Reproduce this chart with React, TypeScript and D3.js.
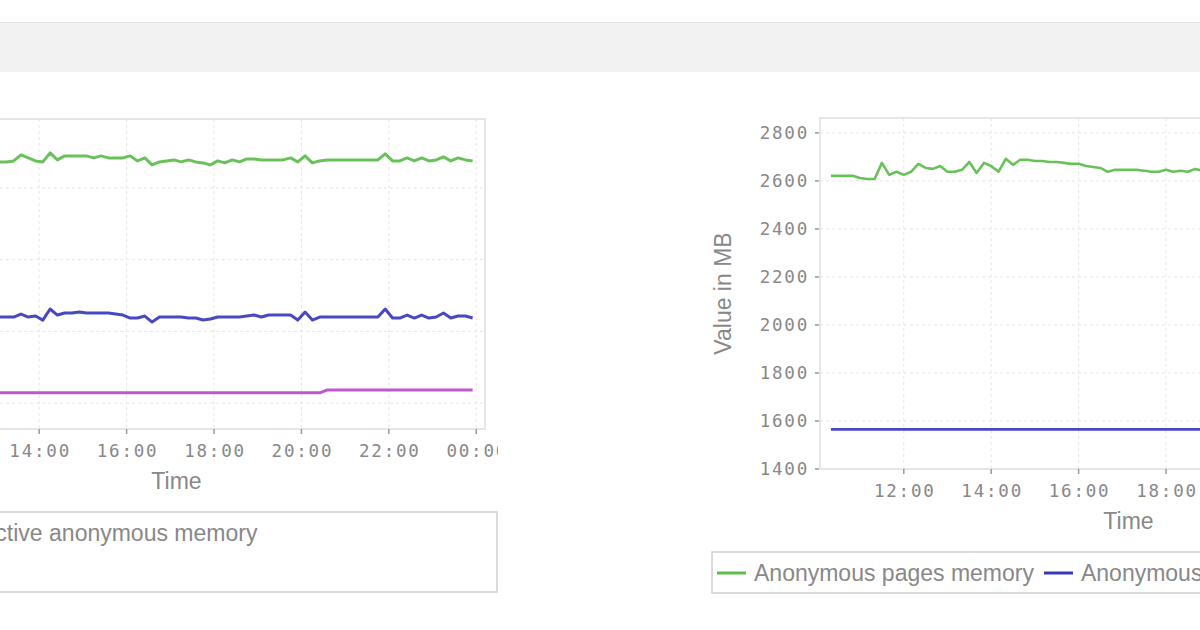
import * as d3 from 'd3';

// sampling of the memory series (minutes between points)
const SAMPLE_MINUTES = 10;
const LEFT_START = '12:55';
const RIGHT_START = '10:20';
const DOMAIN_START = '10:05';
const DOMAIN_END = '00:12'; // next day

// left chart, MB
const LEFT_ANON_PAGES = [
  2181, 2181, 2181, 2188, 2230, 2209, 2188, 2181, 2244, 2195,
  2223, 2223, 2223, 2223, 2209, 2223, 2209, 2209, 2209, 2223,
  2188, 2209, 2160, 2181, 2188, 2195, 2181, 2195, 2181, 2174,
  2160, 2188, 2174, 2195, 2181, 2202, 2202, 2195, 2195, 2195,
  2195, 2209, 2181, 2223, 2174, 2188, 2195, 2195, 2195, 2195,
  2195, 2195, 2195, 2195, 2237, 2188, 2188, 2209, 2188, 2209,
  2188, 2195, 2216, 2188, 2209, 2195, 2188,
];
const LEFT_ACTIVE_ANON = [
  1100, 1100, 1100, 1100, 1121, 1100, 1107, 1079, 1156, 1114,
  1128, 1128, 1135, 1128, 1128, 1128, 1128, 1121, 1114, 1093,
  1093, 1107, 1065, 1100, 1100, 1100, 1100, 1093, 1093, 1079,
  1086, 1100, 1100, 1100, 1100, 1107, 1114, 1100, 1114, 1114,
  1114, 1114, 1079, 1135, 1079, 1100, 1100, 1100, 1100, 1100,
  1100, 1100, 1100, 1100, 1156, 1093, 1093, 1114, 1093, 1114,
  1093, 1100, 1128, 1093, 1107, 1107, 1093,
];
const LEFT_INACTIVE_ANON = [
  572, 572, 572, 572, 572, 572, 572, 572, 572, 572,
  572, 572, 572, 572, 572, 572, 572, 572, 572, 572,
  572, 572, 572, 572, 572, 572, 572, 572, 572, 572,
  572, 572, 572, 572, 572, 572, 572, 572, 572, 572,
  572, 572, 572, 572, 572, 572, 591, 591, 591, 591,
  591, 591, 591, 591, 591, 591, 591, 591, 591, 591,
  591, 591, 591, 591, 591, 591, 591,
];
const LEFT_Y_DOMAIN = [320, 2480];
const LEFT_Y_TICKS = [500, 1000, 1500, 2000];

// right chart, MB
const RIGHT_ANON_PAGES = [
  2621, 2621, 2621, 2621, 2612, 2608, 2608, 2675, 2625, 2638,
  2625, 2638, 2671, 2654, 2650, 2662, 2638, 2638, 2646, 2679,
  2633, 2675, 2662, 2638, 2692, 2667, 2688, 2688, 2683, 2683,
  2679, 2679, 2675, 2671, 2671, 2662, 2658, 2654, 2638, 2646,
  2646, 2646, 2646, 2642, 2638, 2638, 2646, 2638, 2642, 2638,
  2650, 2642, 2642, 2642, 2642, 2642,
];
const RIGHT_ANON_HUGE = [
  1565, 1565, 1565, 1565, 1565, 1565, 1565, 1565, 1565, 1565,
  1565, 1565, 1565, 1565, 1565, 1565, 1565, 1565, 1565, 1565,
  1565, 1565, 1565, 1565, 1565, 1565, 1565, 1565, 1565, 1565,
  1565, 1565, 1565, 1565, 1565, 1565, 1565, 1565, 1565, 1565,
  1565, 1565, 1565, 1565, 1565, 1565, 1565, 1565, 1565, 1565,
  1565, 1565, 1565, 1565, 1565, 1565,
];
const RIGHT_Y_DOMAIN = [1400, 2862];
const RIGHT_Y_TICKS = [1400, 1600, 1800, 2000, 2200, 2400, 2600, 2800];

const GREEN = '#5cbd4b';
const BLUE = '#3838bb';
const MAGENTA = '#b94bc9';
const TEXT = '#888888';
const TICK_FONT = '"DejaVu Sans Mono", monospace';
const LABEL_FONT = '"Liberation Sans", Arial, sans-serif';
const VIEW_LEFT = 0; // the page is scrolled: anything left of this is out of view

function at(hm: string, nextDay = false) {
  const [h, m] = hm.split(':').map(Number);
  return new Date(2024, 0, nextDay ? 2 : 1, h, m);
}

interface Point { t: Date; v: number }
interface Series { name: string; color: string; points: Point[] }

function toPoints(start: string, values: number[]): Point[] {
  const t0 = at(start);
  return values.map((v, i) => ({ t: d3.timeMinute.offset(t0, i * SAMPLE_MINUTES), v }));
}

let ctx: CanvasRenderingContext2D | null = null;
function textWidth(s: string, size: number) {
  if (!ctx) ctx = document.createElement('canvas').getContext('2d');
  if (!ctx) return s.length * size * 0.5;
  ctx.font = `${size}px "Liberation Sans", Arial, sans-serif`;
  return ctx.measureText(s).width;
}

interface ChartProps {
  id: string;
  left: number;
  right: number;
  top: number;
  bottom: number;
  yDomain: number[];
  yTicks: number[];
  series: Series[];
  strokeWidth: number;
  legend: { x: number; y: number; width: number; rows: Series[][] };
  clipRight?: number;
}

function Chart({ id, left, right, top, bottom, yDomain, yTicks, series, strokeWidth, legend, clipRight }: ChartProps) {
  const x = d3.scaleTime().domain([at(DOMAIN_START), at(DOMAIN_END, true)]).range([left, right]);
  const y = d3.scaleLinear().domain(yDomain).range([bottom, top]);
  const xTicks = x.ticks(d3.timeHour.every(2)!);
  const fmt = d3.timeFormat('%H:%M');
  const line = d3.line<Point>().x(d => x(d.t)).y(d => y(d.v));
  const rowH = 39;
  const legendH = legend.rows.length * rowH + 2;
  const yLabelsVisible = left - 11 > VIEW_LEFT;

  return (
    <g clipPath={clipRight !== undefined ? `url(#${id}-clip)` : undefined}>
      {clipRight !== undefined && (
        <defs>
          <clipPath id={`${id}-clip`}>
            <rect x={-1000} y={0} width={1000 + clipRight} height={630} />
          </clipPath>
        </defs>
      )}
      <rect x={left} y={top} width={right - left} height={bottom - top} fill="#fff" />
      {/* grid */}
      {yTicks.filter(t => y(t) < bottom - 1).map(t => (
        <line key={'gy' + t} x1={left} x2={right} y1={y(t)} y2={y(t)} stroke="#e6e6e6" strokeDasharray="3,3" />
      ))}
      {xTicks.map(t => (
        <line key={'gx' + +t} x1={x(t)} x2={x(t)} y1={top} y2={bottom} stroke="#e6e6e6" strokeDasharray="3,3" />
      ))}
      <rect x={left} y={top} width={right - left} height={bottom - top} fill="none" stroke="#dedede" strokeWidth={1.5} />
      {/* axes */}
      {xTicks.map(t => (
        <g key={'tx' + +t}>
          <line x1={x(t)} x2={x(t)} y1={bottom} y2={bottom + 5} stroke="#9a9a9a" strokeWidth={1.5} />
          {x(t) + 30 > VIEW_LEFT && (
            <text x={x(t) + 1} y={bottom + 28} textAnchor="middle" fontFamily={TICK_FONT} fontSize={17.5}
              letterSpacing={1.8} fill={TEXT}>{fmt(t)}</text>
          )}
        </g>
      ))}
      {yTicks.map(t => (
        <g key={'ty' + t}>
          <line x1={left - 5} x2={left - 1} y1={y(t)} y2={y(t)} stroke="#9a9a9a" strokeWidth={1.5} />
          {yLabelsVisible && (
            <text x={left - 11} y={y(t) + 6} textAnchor="end" fontFamily={TICK_FONT} fontSize={17.5}
              letterSpacing={1.8} fill={TEXT}>{t}</text>
          )}
        </g>
      ))}
      <text x={(left + right) / 2} y={bottom + 60} textAnchor="middle" fontFamily={LABEL_FONT} fontSize={23}
        fill={TEXT}>Time</text>
      {yLabelsVisible && (
        <text transform={`translate(${left - 89},${(top + bottom) / 2}) rotate(-90)`} textAnchor="middle"
          fontFamily={LABEL_FONT} fontSize={23} fill={TEXT}>Value in MB</text>
      )}
      {/* lines */}
      {series.map(s => (
        <path key={s.name} d={line(s.points) ?? ''} fill="none" stroke={s.color} strokeWidth={strokeWidth}
          strokeLinejoin="round" strokeOpacity={0.92} />
      ))}
      {/* legend */}
      <rect x={legend.x} y={legend.y} width={legend.width} height={legendH} fill="#fff" stroke="#cfcfcf"
        strokeWidth={1.5} />
      {legend.rows.map((row, ri) => {
        let cx = legend.x + 5;
        const base = legend.y + 29 + ri * rowH;
        return row.map(s => {
          const sx = cx;
          const w = textWidth(s.name, 23);
          cx += 37 + w + 10;
          if (sx + 37 + w < VIEW_LEFT) return null;
          return (
            <g key={s.name}>
              <line x1={sx} x2={sx + 29} y1={base - 8} y2={base - 8} stroke={s.color} strokeWidth={3} />
              <text x={sx + 37} y={base} fontFamily={LABEL_FONT} fontSize={23} fill={TEXT}>{s.name}</text>
            </g>
          );
        });
      })}
    </g>
  );
}

export default function App() {
  const leftSeries: Series[] = [
    { name: 'Anonymous pages memory', color: GREEN, points: toPoints(LEFT_START, LEFT_ANON_PAGES) },
    { name: 'Active anonymous memory', color: BLUE, points: toPoints(LEFT_START, LEFT_ACTIVE_ANON) },
    { name: 'Inactive anonymous memory', color: MAGENTA, points: toPoints(LEFT_START, LEFT_INACTIVE_ANON) },
  ];
  const rightSeries: Series[] = [
    { name: 'Anonymous pages memory', color: GREEN, points: toPoints(RIGHT_START, RIGHT_ANON_PAGES) },
    { name: 'Anonymous huge pages memory', color: BLUE, points: toPoints(RIGHT_START, RIGHT_ANON_HUGE) },
  ];

  return (
    <svg width={1200} height={630} style={{ position: 'absolute', left: 0, top: 0, background: '#fff' }}>
      <rect x={0} y={0} width={1200} height={630} fill="#fff" />
      <rect x={0} y={22} width={1200} height={50} fill="#f2f2f2" />
      <line x1={0} x2={1200} y1={22.5} y2={22.5} stroke="#e0e0e0" />
      <Chart id="left" left={-132} right={485} top={119} bottom={429}
        yDomain={LEFT_Y_DOMAIN} yTicks={LEFT_Y_TICKS} series={leftSeries} strokeWidth={3}
        legend={{ x: -403, y: 512, width: 900, rows: [[leftSeries[1], leftSeries[2]], [leftSeries[0]]] }}
        clipRight={498} />
      <Chart id="right" left={820} right={1437} top={118} bottom={469}
        yDomain={RIGHT_Y_DOMAIN} yTicks={RIGHT_Y_TICKS} series={rightSeries} strokeWidth={2.6}
        legend={{ x: 712, y: 552, width: 800, rows: [rightSeries] }} />
    </svg>
  );
}
